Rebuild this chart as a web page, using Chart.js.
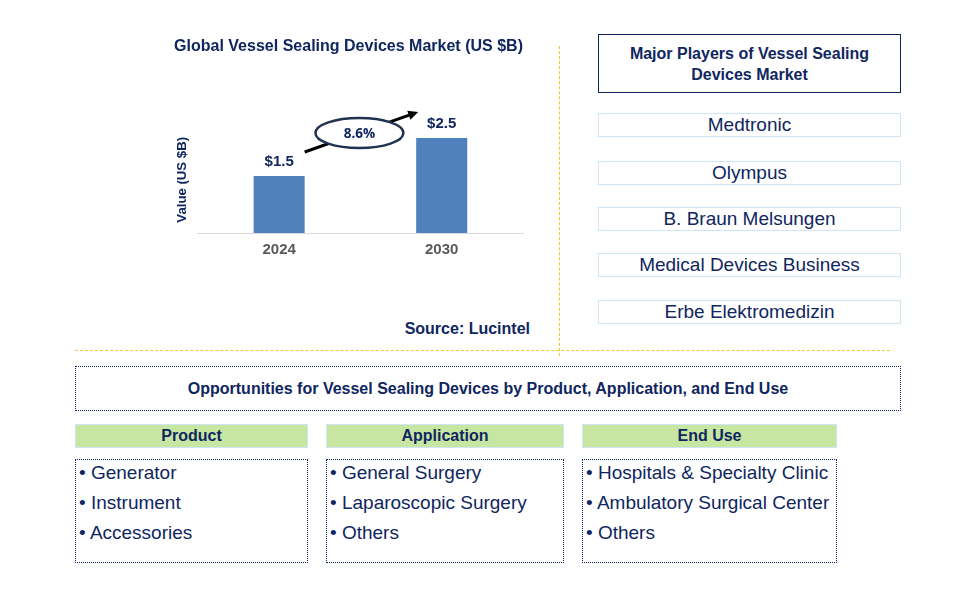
<!DOCTYPE html>
<html>
<head>
<meta charset="utf-8">
<script src="https://cdn.jsdelivr.net/npm/chart.js@4.4.0/dist/chart.umd.min.js"></script>
<style>
  html, body { margin: 0; padding: 0; background: #fff; }
  body { width: 965px; height: 603px; position: relative; overflow: hidden;
         font-family: "Liberation Sans", Arial, sans-serif; color: #0f2660; }
  .abs { position: absolute; box-sizing: border-box; }
  #chartWrap { left: 0; top: 0; width: 560px; height: 270px; }
  .src { right: 435px; top: 320px; font-weight: bold; font-size: 16px; white-space: nowrap; }
  .vline { left: 559px; top: 46px; height: 310px; width: 0; border-left: 1px dashed #f5c518; }
  .hline { left: 75px; top: 350px; width: 815px; height: 0; border-top: 1px dashed #f7c936; }
  .ptitle { left: 598px; top: 34px; width: 303px; height: 59px; border: 1.5px solid #0f2660;
            display: flex; align-items: center; justify-content: center; text-align: center;
            font-weight: bold; font-size: 16px; line-height: 21px; }
  .player { left: 598px; width: 303px; height: 24px; border: 1.5px solid #cde5f4;
            display: flex; align-items: center; justify-content: center; font-size: 19px; }
  .opp { left: 75px; top: 366px; width: 826px; height: 45px; border: 1.5px dotted #0f2660;
         display: flex; align-items: center; justify-content: center; font-weight: bold; font-size: 16px; }
  .hdr { top: 424px; height: 24px; background: #c6e6a2; border: 1.5px solid #cde5f4;
         display: flex; align-items: center; justify-content: center; font-weight: bold; font-size: 16px; }
  .list { top: 459px; height: 104px; border: 1.5px dotted #0f2660; padding: 1px 0 0 3px; }
  .list div { font-size: 19px; height: 30px; line-height: 24px; white-space: nowrap; }
</style>
</head>
<body>
<div id="chartWrap" class="abs"><canvas id="c" width="560" height="270"></canvas></div>
<div class="abs src" id="src"></div>
<div class="abs vline"></div>
<div class="abs hline"></div>
<div class="abs ptitle" id="ptitle"></div>
<div id="players"></div>
<div class="abs opp" id="opp"></div>
<div id="segs"></div>
<script>
// ---- data ----
const years = ["2024", "2030"];
const marketValues = [1.5, 2.5];
const cagrLabel = "8.6%";
const chartTitle = "Global Vessel Sealing Devices Market (US $B)";
const yAxisTitle = "Value (US $B)";
const sourceText = "Source: Lucintel";
const playersTitle = ["Major Players of Vessel Sealing", "Devices Market"];
const players = ["Medtronic", "Olympus", "B. Braun Melsungen", "Medical Devices Business", "Erbe Elektromedizin"];
const oppTitle = "Opportunities for Vessel Sealing Devices by Product, Application, and End Use";
const segmentNames = ["Product", "Application", "End Use"];
const productItems = ["Generator", "Instrument", "Accessories"];
const applicationItems = ["General Surgery", "Laparoscopic Surgery", "Others"];
const endUseItems = ["Hospitals & Specialty Clinic", "Ambulatory Surgical Center", "Others"];

const NAVY = "#0f2660";
const FONT = "'Liberation Sans', Arial, sans-serif";

// ---- HTML parts ----
document.getElementById("src").textContent = sourceText;
document.getElementById("ptitle").innerHTML = playersTitle.join("<br>");
const playerTops = [113, 161, 207, 253, 300];
const pWrap = document.getElementById("players");
players.forEach((p, i) => {
  const d = document.createElement("div");
  d.className = "abs player";
  d.style.top = playerTops[i] + "px";
  d.textContent = p;
  pWrap.appendChild(d);
});
document.getElementById("opp").textContent = oppTitle;
const segLefts = [75, 326, 582];
const segWidths = [233, 238, 255];
const segItems = [productItems, applicationItems, endUseItems];
const sWrap = document.getElementById("segs");
segmentNames.forEach((n, i) => {
  const h = document.createElement("div");
  h.className = "abs hdr";
  h.style.left = segLefts[i] + "px";
  h.style.width = segWidths[i] + "px";
  h.textContent = n;
  sWrap.appendChild(h);
  const l = document.createElement("div");
  l.className = "abs list";
  l.style.left = segLefts[i] + "px";
  l.style.width = segWidths[i] + "px";
  segItems[i].forEach(t => {
    const it = document.createElement("div");
    it.textContent = "\u2022 " + t;
    l.appendChild(it);
  });
  sWrap.appendChild(l);
});

// ---- chart ----
const annotate = {
  id: "annotate",
  afterDatasetsDraw(chart) {
    const ctx = chart.ctx;
    const bars = chart.getDatasetMeta(0).data;
    ctx.save();
    // value labels
    ctx.fillStyle = NAVY;
    ctx.font = "bold 15px " + FONT;
    ctx.textAlign = "center";
    ctx.textBaseline = "middle";
    bars.forEach((b, i) => {
      ctx.fillText("$" + marketValues[i].toFixed(1), b.x, b.y - 14);
    });
    // arrow
    const b0 = bars[0], b1 = bars[1];
    const x0 = b0.x + b0.width / 2, y0 = b0.y - 24;
    const x1 = b1.x - b1.width / 2 + 2, y1 = b1.y - 26;
    const ang = Math.atan2(y1 - y0, x1 - x0);
    const hl = 11;
    ctx.strokeStyle = "#000";
    ctx.lineWidth = 3;
    ctx.beginPath();
    ctx.moveTo(x0, y0);
    ctx.lineTo(x1 - hl * 0.8 * Math.cos(ang), y1 - hl * 0.8 * Math.sin(ang));
    ctx.stroke();
    ctx.fillStyle = "#000";
    ctx.beginPath();
    ctx.moveTo(x1, y1);
    ctx.lineTo(x1 - hl * Math.cos(ang - 0.45), y1 - hl * Math.sin(ang - 0.45));
    ctx.lineTo(x1 - hl * Math.cos(ang + 0.45), y1 - hl * Math.sin(ang + 0.45));
    ctx.closePath();
    ctx.fill();
    // ellipse
    const cx = (x0 + x1) / 2 - 2, cy = (y0 + y1) / 2 + 1;
    ctx.beginPath();
    ctx.ellipse(cx, cy, 44, 15, 0, 0, Math.PI * 2);
    ctx.fillStyle = "#fff";
    ctx.fill();
    ctx.lineWidth = 2.5;
    ctx.strokeStyle = "#1f3350";
    ctx.stroke();
    ctx.fillStyle = NAVY;
    ctx.font = "bold 13.5px 'Open Sans', " + FONT;
    ctx.fillText(cagrLabel, cx, cy + 1);
    ctx.restore();
  }
};

new Chart(document.getElementById("c"), {
  type: "bar",
  data: {
    labels: years,
    datasets: [{
      data: marketValues,
      backgroundColor: "#4f81bd",
      barPercentage: 0.314,
      categoryPercentage: 1
    }]
  },
  options: {
    responsive: false,
    maintainAspectRatio: false,
    animation: false,
    events: [],
    layout: { padding: { left: 174, right: 37, top: 37, bottom: 3 } },
    plugins: {
      legend: { display: false },
      tooltip: { enabled: false },
      title: {
        display: true,
        text: chartTitle,
        color: NAVY,
        font: { family: FONT, size: 16.5, weight: "bold" },
        padding: { top: 0, bottom: 69.8 }
      }
    },
    scales: {
      x: {
        grid: { display: false, drawTicks: false },
        border: { display: true, color: "#d9d9d9", width: 1 },
        ticks: { color: "#595959", font: { family: FONT, size: 15, weight: "bold" }, padding: 8 }
      },
      y: {
        min: 0, max: 2.8,
        grid: { display: false, drawTicks: false },
        border: { display: false },
        ticks: { display: false },
        title: {
          display: true, text: yAxisTitle, color: NAVY,
          font: { family: FONT, size: 13.2, weight: "bold" },
          padding: { top: 0, bottom: 8 }
        }
      }
    }
  },
  plugins: [annotate]
});
</script>
</body>
</html>
